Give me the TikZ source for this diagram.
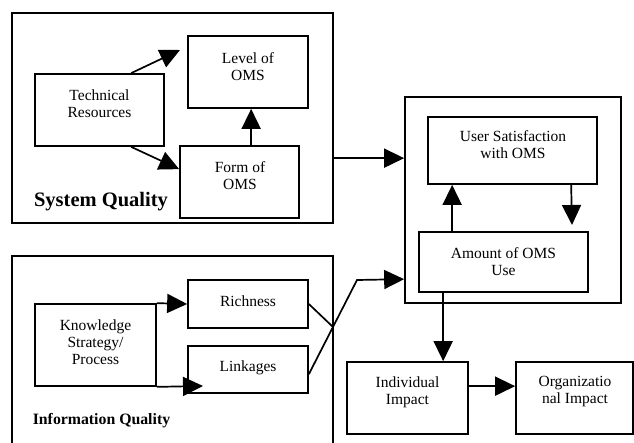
\documentclass[tikz,border=0pt]{standalone}
\usepackage{fontspec}
\setmainfont{Liberation Serif}
\usetikzlibrary{arrows.meta,calc}
\begin{document}
\begin{tikzpicture}[x=1pt,y=-1pt,
  box/.style={draw, line width=1.7pt, inner sep=0pt, rectangle},
  txt/.style={align=center, inner sep=0pt, font=\fontsize{15.5}{17}\selectfont},
  arr/.style={-{Triangle[length=20pt,width=19pt]}, line width=1.7pt},
  ln/.style={line width=1.7pt}]
\useasboundingbox (0,0) rectangle (634,442);
% System Quality group
\node[box, minimum width=321pt, minimum height=210pt] (sq) at (172.5,118) {};
\node[box, minimum width=129pt, minimum height=72pt] (tr) at (99.5,110) {};
\node[box, minimum width=120pt, minimum height=72pt] (lvl) at (248,72) {};
\node[box, minimum width=119pt, minimum height=72pt] (form) at (239.5,182) {};
\node[txt] (trT) at (99.5,104) {Technical\\Resources};
\node[txt] (lvlT) at (248,66.5) {Level of\\OMS};
\node[txt] (formT) at (240,176) {Form of\\OMS};
\node[inner sep=0pt, font=\fontsize{20.5}{22}\selectfont\bfseries] (sqT) at (101,202) {System Quality};
\coordinate (c1) at (180,50);
\draw[arr] ($(tr.north west)+(97,0)$) -- (c1);
\draw[arr] ($(tr.south west)+(97,0)$) -- ($(form.north west)+(0,24)$);
\draw[arr] ($(form.north west)+(72,0)$) -- ($(lvl.south west)+(64,0)$);
% Information Quality group
\draw[ln] (12,452) -- (12,256) -- (333,256) -- (333,452);
\node[box, minimum width=121pt, minimum height=82pt] (kn) at (95.5,345) {};
\node[box, minimum width=120pt, minimum height=48pt] (rich) at (248,304) {};
\node[box, minimum width=120pt, minimum height=47pt] (link) at (248,369.5) {};
\node[txt] (knT) at (95.5,342.5) {Knowledge\\Strategy/\\Process};
\node[txt] (richT) at (248,301) {Richness};
\node[txt] (linkT) at (248,368) {Linkages};
\node[inner sep=0pt, font=\fontsize{15.8}{18}\selectfont\bfseries] (iqT) at (101.5,421) {Information Quality};
\coordinate (c2) at (203,386);
\coordinate (cross) at (333,327);
\coordinate (bend) at (357,280);
\draw[arr] (kn.north east) -- (rich.west);
\draw[arr] (kn.south east) -- (c2);
\draw[ln] (rich.east) -- (cross);
% Use / satisfaction group
\node[box, minimum width=216pt, minimum height=206pt] (rq) at (513,200) {};
\node[box, minimum width=169pt, minimum height=67pt] (us) at (512.5,150.5) {};
\node[box, minimum width=169pt, minimum height=60pt] (amt) at (503.5,262) {};
\node[txt] (usT) at (513,145) {User Satisfaction\\with OMS};
\node[txt] (amtT) at (503.5,262) {Amount of OMS\\Use};
\coordinate (c3) at (572,225);
\draw[arr] ($(amt.north west)+(34,0)$) -- ($(us.south west)+(25,0)$);
\draw[arr] ($(us.south west)+(144,0)$) -- (c3);
\draw[arr] ($(sq.north east)+(0,146)$) -- ($(rq.north west)+(0,62)$);
\draw[arr] ($(link.north east)+(0,29)$) -- (bend) -- ($(rq.north west)+(0,183)$);
% Impact
\node[box, minimum width=121pt, minimum height=72pt] (ind) at (407.5,398) {};
\node[box, minimum width=117pt, minimum height=72pt] (org) at (574.5,398) {};
\node[txt] (indT) at (407.5,392) {Individual\\Impact};
\node[txt] (orgT) at (575,392) {Organizatio\\nal Impact};
\draw[arr] ($(amt.south west)+(25,0)$) -- ($(ind.north west)+(97,0)$);
\draw[arr] ($(ind.north east)+(0,25)$) -- ($(org.north west)+(0,25)$);
\end{tikzpicture}
\end{document}
